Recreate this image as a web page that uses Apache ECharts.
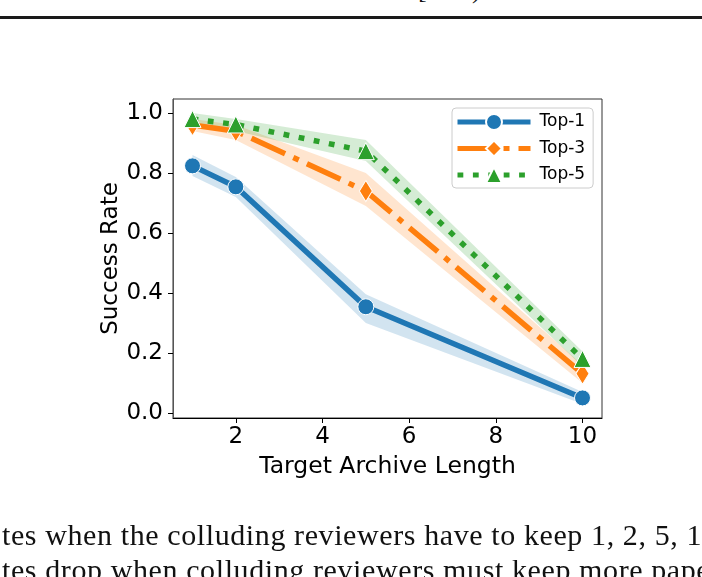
<!DOCTYPE html>
<html>
<head>
<meta charset="utf-8">
<script src="https://cdn.jsdelivr.net/npm/echarts@6/dist/echarts.min.js"></script>
<style>
  html, body { margin: 0; padding: 0; background: #fff; }
  .page { position: relative; width: 702px; height: 577px; overflow: hidden; background: #fff; }
  #chart { position: absolute; left: 0; top: 0; width: 702px; height: 577px; }
  .rule { position: absolute; left: 0; top: 16px; width: 702px; height: 3px; background: #1a1a1a; }
  .body-text {
    position: absolute; left: 2px; white-space: nowrap;
    font-family: "Liberation Serif", serif; font-size: 30px; line-height: 1;
    letter-spacing: 0.6px; color: #111;
  }
  .frag { position: absolute; top: -23px; font-family: "Liberation Serif", serif; font-size: 26px; line-height: 1; color: #111; }
</style>
</head>
<body>
<div class="page">
  <span class="frag" style="left:418px">[</span>
  <span class="frag" style="left:472px">)</span>
  <div class="rule"></div>
  <div id="chart"></div>
  <div class="body-text" style="top:520px">tes when the colluding reviewers have to keep 1, 2, 5, 10</div>
  <div class="body-text" style="top:555px">tes drop when colluding reviewers must keep more papers</div>
</div>
<script>
// archive lengths on the x axis
const xValues = [1, 2, 5, 10];

// mean success rate per series
const top1 = [0.824, 0.754, 0.354, 0.05];
const top3 = [0.96, 0.94, 0.74, 0.131];
const top5 = [0.98, 0.962, 0.873, 0.18];

// confidence band (lower / upper)
const top1Lo = [0.79, 0.72, 0.30, 0.03];
const top1Hi = [0.86, 0.787, 0.396, 0.07];
const top3Lo = [0.94, 0.91, 0.69, 0.10];
const top3Hi = [0.98, 0.96, 0.80, 0.16];
const top5Lo = [0.96, 0.94, 0.84, 0.155];
const top5Hi = [1.0, 0.98, 0.91, 0.205];

const xTicks = [2, 4, 6, 8, 10];
const yTicks = [0.0, 0.2, 0.4, 0.6, 0.8, 1.0];

const FONT = 'DejaVu Sans';
const pairs = (ys) => xValues.map((x, i) => [x, ys[i]]);

// shaded band drawn as one polygon through the axis scales
const band = (lo, hi, color) => ({
  type: 'custom',
  silent: true,
  z: 1,
  data: xValues.map((x, i) => [x, lo[i], hi[i]]),
  encode: { x: 0, y: [1, 2] },
  renderItem: (params, api) => {
    if (params.dataIndex !== 0) return null;
    const upper = xValues.map((x, i) => api.coord([x, hi[i]]));
    const lower = xValues.map((x, i) => api.coord([x, lo[i]])).reverse();
    return { type: 'polygon', shape: { points: upper.concat(lower) }, style: { fill: color } };
  }
});

const chart = echarts.init(document.getElementById('chart'), null, { renderer: 'canvas' });
chart.setOption({
  animation: false,
  backgroundColor: 'transparent',
  textStyle: { fontFamily: FONT },
  grid: {
    left: 173, right: 100, top: 99, bottom: 159,
    show: true, borderColor: '#333', borderWidth: 1
  },
  legend: {
    data: ['Top-1', 'Top-3', 'Top-5'],
    orient: 'vertical',
    left: 452,
    top: 108,
    itemWidth: 73,
    itemHeight: 20,
    itemGap: 8.5,
    padding: [5, 8, 4, 3],
    borderColor: '#cccccc',
    borderWidth: 1,
    borderRadius: 4,
    backgroundColor: 'rgba(255,255,255,0.8)',
    lineStyle: { width: 5 },
    textStyle: { fontSize: 17, color: '#000', fontFamily: FONT, padding: [0, 0, 0, 4] }
  },
  xAxis: {
    type: 'value',
    min: 0.55,
    max: 10.45,
    axisLine: { show: true, onZero: false, lineStyle: { color: '#000', width: 1 } },
    axisTick: { show: true, customValues: xTicks, length: 5, lineStyle: { color: '#000' } },
    axisLabel: { customValues: xTicks, color: '#000', fontSize: 23, fontFamily: FONT, margin: 8 },
    splitLine: { show: false },
    name: 'Target Archive Length',
    nameLocation: 'middle',
    nameGap: 37,
    nameMoveOverlap: false,
    nameTextStyle: { color: '#000', fontSize: 23.5, fontFamily: FONT, verticalAlign: 'top' }
  },
  yAxis: {
    type: 'value',
    min: -0.017,
    max: 1.047,
    axisLine: { show: true, onZero: false, lineStyle: { color: '#555', width: 1 } },
    axisTick: { show: true, customValues: yTicks, length: 5, lineStyle: { color: '#000' } },
    axisLabel: {
      customValues: yTicks, color: '#000', fontSize: 23, fontFamily: FONT, margin: 10,
      formatter: (v) => v.toFixed(1)
    },
    splitLine: { show: false },
    name: 'Success Rate',
    nameLocation: 'middle',
    nameGap: 50,
    nameMoveOverlap: false,
    nameTextStyle: { color: '#000', fontSize: 23, fontFamily: FONT }
  },
  series: [
    band(top1Lo, top1Hi, 'rgba(31,119,180,0.2)'),
    band(top3Lo, top3Hi, 'rgba(255,127,14,0.2)'),
    band(top5Lo, top5Hi, 'rgba(44,160,44,0.2)'),
    {
      name: 'Top-1', type: 'line', data: pairs(top1), z: 3,
      symbol: 'circle', symbolSize: 16,
      lineStyle: { color: '#1f77b4', width: 5.5 },
      itemStyle: { color: '#1f77b4', borderColor: '#fff', borderWidth: 1 },
      emphasis: { disabled: true }
    },
    {
      name: 'Top-3', type: 'line', data: pairs(top3), z: 4,
      symbol: 'diamond', symbolSize: [13, 21],
      lineStyle: { color: '#ff7f0e', width: 5.5, type: [37, 9, 6, 9] },
      itemStyle: { color: '#ff7f0e', borderColor: '#fff', borderWidth: 1 },
      emphasis: { disabled: true }
    },
    {
      name: 'Top-5', type: 'line', data: pairs(top5), z: 5,
      symbol: 'triangle', symbolSize: 17,
      lineStyle: { color: '#2ca02c', width: 5.5, type: [5.8, 9.6] },
      itemStyle: { color: '#2ca02c', borderColor: '#fff', borderWidth: 1 },
      emphasis: { disabled: true }
    }
  ]
});
</script>
</body>
</html>
